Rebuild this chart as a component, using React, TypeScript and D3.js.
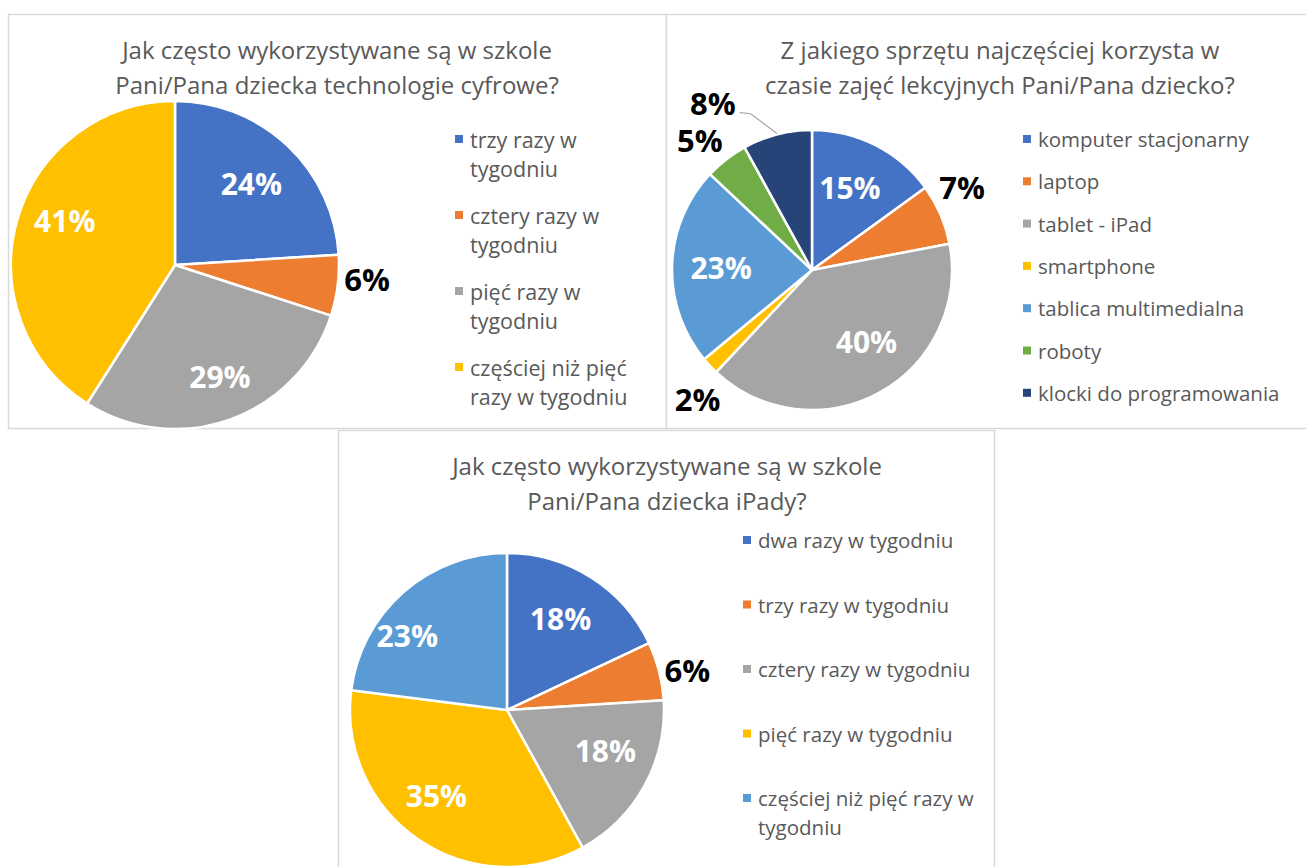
import React from 'react'
import * as d3 from 'd3'

const W = 1306
const H = 867

const COLORS = ['#4472C4', '#ED7D31', '#A5A5A5', '#FFC000', '#5B9BD5', '#70AD47', '#264478']

// chart 1
const title1 = ['Jak często wykorzystywane są w szkole', 'Pani/Pana dziecka technologie cyfrowe?']
const cats1 = [
  ['trzy razy w', 'tygodniu'],
  ['cztery razy w', 'tygodniu'],
  ['pięć razy w', 'tygodniu'],
  ['częściej niż pięć', 'razy w tygodniu'],
]
const vals1 = [24, 6, 29, 41]
const colors1 = [COLORS[0], COLORS[1], COLORS[2], COLORS[3]]

// chart 2
const title2 = ['Z jakiego sprzętu najczęściej korzysta w', 'czasie zajęć lekcyjnych Pani/Pana dziecko?']
const cats2 = [
  ['komputer stacjonarny'],
  ['laptop'],
  ['tablet - iPad'],
  ['smartphone'],
  ['tablica multimedialna'],
  ['roboty'],
  ['klocki do programowania'],
]
const vals2 = [15, 7, 40, 2, 23, 5, 8]
const colors2 = COLORS

// chart 3
const title3 = ['Jak często wykorzystywane są w szkole', 'Pani/Pana dziecka iPady?']
const cats3 = [
  ['dwa razy w tygodniu'],
  ['trzy razy w tygodniu'],
  ['cztery razy w tygodniu'],
  ['pięć razy w tygodniu'],
  ['częściej niż pięć razy w', 'tygodniu'],
]
const vals3 = [18, 6, 18, 35, 23]
const colors3 = [COLORS[0], COLORS[1], COLORS[2], COLORS[3], COLORS[4]]

const FONT = '"Open Sans", Lato, sans-serif'

type Label = { k: number; outside?: boolean; dx?: number; dy?: number; leader?: boolean }

type PieProps = {
  box: [number, number, number, number]
  title: string[]
  titleX: number
  titleY: number
  cats: string[][]
  vals: number[]
  colors: string[]
  cx: number
  cy: number
  r: number
  legendX: number
  legendY: number
  legendStep: number
  legendSize: number
  labels: Label[]
}

function PieChart(p: PieProps) {
  const arcs = d3.pie<number>().sort(null).value(d => d)(p.vals)
  const arcGen = d3.arc<d3.PieArcDatum<number>>().innerRadius(0).outerRadius(p.r)
  const [bx, by, bw, bh] = p.box

  // legend rows: wrapped lines push the next entry down
  let rowY = p.legendY
  const legendRows = p.cats.map((lines, i) => {
    const y = rowY
    rowY += p.legendStep + (lines.length - 1) * 29
    return { lines, y, color: p.colors[i] }
  })

  return (
    <g>
      <rect x={bx + 0.5} y={by + 0.5} width={bw} height={bh} fill="white" stroke="#D9D9D9" strokeWidth={1.5} />
      {p.title.map((t, i) => (
        <text key={i} x={p.titleX} y={p.titleY + i * 35} textAnchor="middle" fontSize={24} fill="#595959" fontFamily={FONT}>
          {t}
        </text>
      ))}
      <g transform={`translate(${p.cx},${p.cy})`}>
        {arcs.map((a, i) => (
          <path key={i} d={arcGen(a) || ''} fill={p.colors[i]} stroke="white" strokeWidth={2.5} strokeLinejoin="round" />
        ))}
        {arcs.map((a, i) => {
          const lab = p.labels[i]
          const mid = (a.startAngle + a.endAngle) / 2
          const rr = p.r * lab.k
          const x = Math.sin(mid) * rr + (lab.dx || 0)
          const y = -Math.cos(mid) * rr + (lab.dy || 0)
          const leader = lab.leader ? (
            <polyline
              points={`${x + 27},${y + 10} ${x + 38},${y + 11} ${Math.sin(mid) * (p.r + 1)},${-Math.cos(mid) * (p.r + 1)}`}
              fill="none"
              stroke="#A6A6A6"
              strokeWidth={1.2}
            />
          ) : null
          return (
            <g key={'l' + i}>
              {leader}
              <text
                x={x}
                y={y}
                textAnchor="middle"
                dominantBaseline="central"
                fontSize={lab.outside ? 31 : 30}
                fontWeight="bold"
                fill={lab.outside ? '#000000' : '#FFFFFF'}
                fontFamily={FONT}
              >
                {d3.format('.0%')(a.data / 100)}
              </text>
            </g>
          )
        })}
      </g>
      {legendRows.map((row, i) => (
        <g key={'g' + i}>
          <rect x={p.legendX} y={row.y - 4} width={8} height={8} fill={row.color} />
          {row.lines.map((ln, j) => (
            <text key={j} x={p.legendX + 15} y={row.y + j * 29} dominantBaseline="central" fontSize={p.legendSize} fill="#595959" fontFamily={FONT}>
              {ln}
            </text>
          ))}
        </g>
      ))}
    </g>
  )
}

export default function App() {
  return (
    <svg width={W} height={H} style={{ position: 'absolute', left: 0, top: 0, background: 'white' }}>
      <PieChart
        box={[8, 14, 658, 414]}
        title={title1}
        titleX={337}
        titleY={59}
        cats={cats1}
        vals={vals1}
        colors={colors1}
        cx={175}
        cy={265}
        r={164}
        legendX={455}
        legendY={139}
        legendStep={47}
        legendSize={21.5}
        labels={[{ k: 0.68 }, { k: 1.18, outside: true, dy: -10 }, { k: 0.72, dx: 5 }, { k: 0.7, dy: -12 }]}
      />
      <PieChart
        box={[666, 14, 645, 414]}
        title={title2}
        titleX={1000}
        titleY={59}
        cats={cats2}
        vals={vals2}
        colors={colors2}
        cx={812}
        cy={270}
        r={140}
        legendX={1023}
        legendY={139}
        legendStep={42.3}
        legendSize={20.5}
        labels={[
          { k: 0.66, dx: -4 },
          { k: 1.2, outside: true, dx: -4, dy: -16 },
          { k: 0.6, dx: 14, dy: -2 },
          { k: 1.2, outside: true, dx: 8, dy: 14 },
          { k: 0.65 },
          { k: 1.25, outside: true, dx: -5, dy: 8 },
          { k: 1.3, outside: true, dx: -54, dy: 9, leader: true },
        ]}
      />
      <PieChart
        box={[338, 430, 656, 440]}
        title={title3}
        titleX={667}
        titleY={475}
        cats={cats3}
        vals={vals3}
        colors={colors3}
        cx={507}
        cy={710}
        r={157}
        legendX={743}
        legendY={540}
        legendStep={64.5}
        legendSize={20.5}
        labels={[{ k: 0.66, dx: -2, dy: -4 }, { k: 1.16, outside: true, dx: 4, dy: 5 }, { k: 0.7, dx: 2, dy: -12 }, { k: 0.72, dx: -7, dy: -8 }, { k: 0.72, dx: -25, dy: 10 }]}
      />
    </svg>
  )
}
